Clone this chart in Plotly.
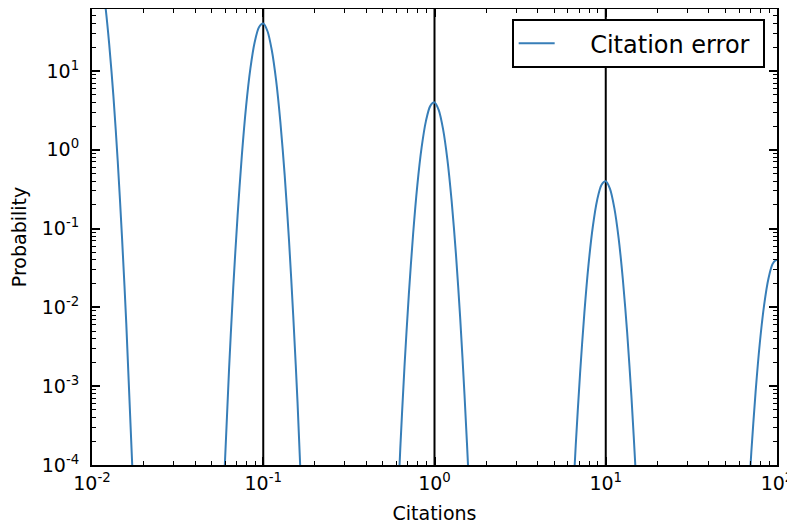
import plotly.graph_objects as go

# Citation error curve (one bump per decade)
cit_001 = [0.00891, 0.00944, 0.01, 0.01059, 0.01122, 0.01189, 0.01259, 0.01334, 0.01413, 0.01496, 0.01585, 0.01738]
prob_001 = [231, 358, 399, 319, 183, 75.7, 22.4, 4.76, 0.726, 0.0796, 6.32e-3, 5.38e-5]

cit_01 = [0.0575, 0.0631, 0.0668, 0.0708, 0.0750, 0.0794, 0.0841, 0.0891, 0.0944, 0.1,
          0.1059, 0.1122, 0.1189, 0.1259, 0.1334, 0.1413, 0.1496, 0.1585, 0.1738]
prob_01 = [1.63e-5, 1.59e-3, 0.0178, 0.145, 0.847, 3.56, 10.7, 23.1, 35.8, 39.9,
           31.9, 18.3, 7.57, 2.24, 0.476, 0.0726, 7.96e-3, 6.32e-4, 5.38e-6]

cit_1 = [0.575, 0.631, 0.668, 0.708, 0.750, 0.794, 0.841, 0.891, 0.944, 1.0,
         1.059, 1.122, 1.189, 1.259, 1.334, 1.413, 1.496, 1.585, 1.738]
prob_1 = [1.63e-6, 1.59e-4, 1.78e-3, 0.0145, 0.0847, 0.356, 1.07, 2.31, 3.58, 3.99,
          3.19, 1.83, 0.757, 0.224, 0.0476, 7.26e-3, 7.96e-4, 6.32e-5, 5.38e-7]

cit_10 = [5.75, 6.31, 6.68, 7.08, 7.50, 7.94, 8.41, 8.91, 9.44, 10.0,
          10.59, 11.22, 11.89, 12.59, 13.34, 14.13, 14.96, 15.85, 17.38]
prob_10 = [1.63e-7, 1.59e-5, 1.78e-4, 1.45e-3, 8.47e-3, 0.0356, 0.107, 0.231, 0.358, 0.399,
           0.319, 0.183, 0.0757, 0.0224, 4.76e-3, 7.26e-4, 7.96e-5, 6.32e-6, 5.38e-8]

cit_100 = [57.5, 63.1, 66.8, 70.8, 75.0, 79.4, 84.1, 89.1, 94.4, 100.0, 105.9, 112.2]
prob_100 = [1.63e-8, 1.59e-6, 1.78e-5, 1.45e-4, 8.47e-4, 3.56e-3, 0.0107, 0.0231, 0.0358, 0.0399, 0.0319, 0.0183]

true_citations = [0.1, 1, 10]

x_ticks = [0.01, 0.1, 1, 10, 100]
x_ticktext = ["10<sup>-2</sup>", "10<sup>-1</sup>", "10<sup>0</sup>", "10<sup>1</sup>", "10<sup>2</sup>"]
y_ticks = [1e-4, 1e-3, 1e-2, 1e-1, 1, 10]
y_ticktext = ["10<sup>-4</sup>", "10<sup>-3</sup>", "10<sup>-2</sup>", "10<sup>-1</sup>", "10<sup>0</sup>", "10<sup>1</sup>"]
minor_digits = [2, 3, 4, 5, 6, 7, 8, 9]

BLUE = "#377eb8"
FONT = "DejaVu Sans"

xs, ys = [], []
for cx, py in [(cit_001, prob_001), (cit_01, prob_01), (cit_1, prob_1), (cit_10, prob_10), (cit_100, prob_100)]:
    xs += cx + [None]
    ys += py + [None]

x_minor = [d * t for t in x_ticks[:-1] for d in minor_digits]
y_minor = [d * t for t in y_ticks for d in minor_digits]

fig = go.Figure()
for v in true_citations:
    fig.add_trace(go.Scatter(x=[v, v], y=[1e-6, 1e4], mode="lines",
                             line=dict(color="black", width=2), showlegend=False, hoverinfo="skip"))
fig.add_trace(go.Scatter(x=xs, y=ys, mode="lines", name="\u00a0\u00a0\u00a0\u00a0Citation error\u00a0",
                         line=dict(color=BLUE, width=2, shape="spline", smoothing=0.8),
                         connectgaps=False))

axis_common = dict(
    type="log", showgrid=False, zeroline=False, automargin=False,
    showline=True, linecolor="black", linewidth=2, mirror="allticks",
    ticks="inside", ticklen=8, tickwidth=1.5, tickcolor="black",
    tickmode="array",
    tickfont=dict(family=FONT, size=19, color="black"),
)

# the page body adds an 8 px offset; margins compensate so the plot area sits at x 92-777, y 9-465
fig.update_layout(
    width=795, height=525,
    margin=dict(l=84, r=26, t=1, b=68),
    paper_bgcolor="white", plot_bgcolor="white",
    font=dict(family=FONT, color="black"),
    xaxis=dict(axis_common, range=[-2, 2], tickvals=x_ticks, ticktext=x_ticktext,
               minor=dict(tickmode="array", tickvals=x_minor, ticks="inside", ticklen=4,
                          tickwidth=1, tickcolor="black", showgrid=False),
               title=dict(text="Citations", font=dict(family=FONT, size=19), standoff=14)),
    yaxis=dict(axis_common, range=[-4, 1.786], tickvals=y_ticks, ticktext=y_ticktext,
               ticklabelstandoff=7,
               minor=dict(tickmode="array", tickvals=y_minor, ticks="inside", ticklen=4,
                          tickwidth=1, tickcolor="black", showgrid=False),
               title=dict(text="Probability", font=dict(family=FONT, size=19), standoff=20)),
    legend=dict(x=0.982, y=0.978, xanchor="right", yanchor="top",
                bgcolor="white", bordercolor="black", borderwidth=2,
                font=dict(family=FONT, size=24, color="black"), itemwidth=36),
    showlegend=True,
)

fig.write_html("out.html")
